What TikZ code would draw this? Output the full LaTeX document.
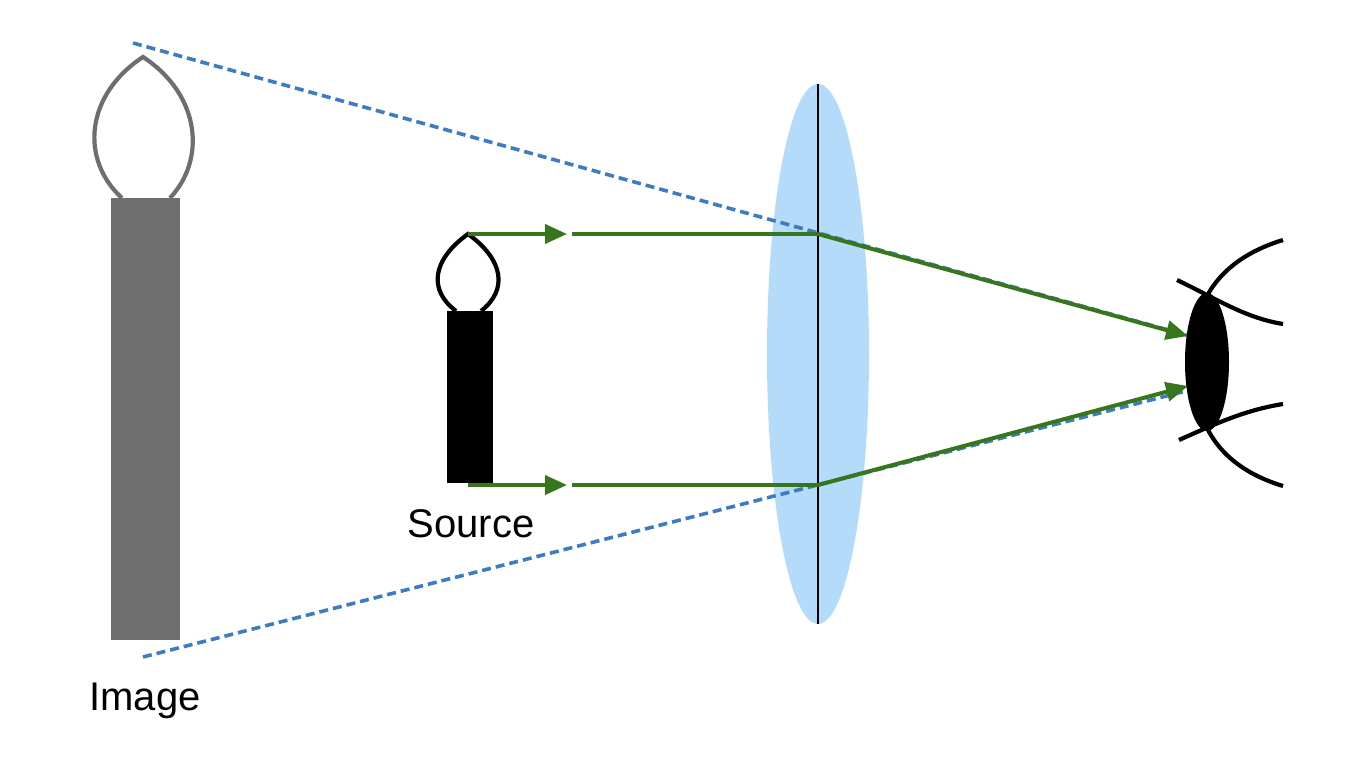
\documentclass[tikz,border=0pt]{standalone}
\usepackage{fontspec}
\setmainfont{Liberation Sans}
\usetikzlibrary{arrows.meta}
\definecolor{ray}{HTML}{38761D}
\definecolor{dash}{HTML}{3D7CC0}
\definecolor{lensc}{HTML}{B4DBF9}
\definecolor{imgc}{HTML}{6E6E6E}
\tikzset{
  rayline/.style={draw=ray,line width=4pt},
  rayarrow/.style={rayline,-{Triangle[length=22pt,width=19pt]}},
  dashline/.style={draw=dash,line width=3.6pt,dash pattern=on 9pt off 5pt},
  label/.style={font=\fontsize{40}{48}\selectfont,inner sep=0pt},
  thick line/.style={line width=4.2pt}
}
\begin{document}
\begin{tikzpicture}[x=1pt,y=-1pt]
\useasboundingbox (0,0) rectangle (1369,760);
% lens
\fill[lensc] (818,354) ellipse [x radius=51, y radius=270];
\draw[line width=2pt] (818,84) -- (818,624);
% image candle
\fill[imgc] (111,198) rectangle (180,640);
\draw[imgc,thick line] (122,198) .. controls (80,160) and (85,95) .. (143,57) .. controls (201,95) and (206,160) .. (170,198);
% source candle
\fill[black] (447,311) rectangle (493,483);
\draw[thick line] (456,311) .. controls (428,290) and (432,260) .. (468,234) .. controls (504,260) and (508,290) .. (481,311);
% coordinates
\coordinate (st) at (468,234);
\coordinate (sb) at (468,485);
\coordinate (at) at (567,234);
\coordinate (ab) at (567,485);
\coordinate (bt) at (572,234);
\coordinate (bb) at (572,485);
\coordinate (lt) at (818,234);
\coordinate (lb) at (818,485);
\coordinate (et) at (1188,336);
\coordinate (eb) at (1188,386);
\coordinate (it) at (133,43);
\coordinate (ib) at (143,657);
\coordinate (dt) at (1190,336);
\coordinate (db) at (1190,390);
% dashed
\draw[dashline] (it) -- (dt);
\draw[dashline] (ib) -- (db);
% rays
\draw[rayarrow] (st) -- (at);
\draw[rayarrow] (sb) -- (ab);
\draw[rayline] (bt) -- (lt);
\draw[rayline] (bb) -- (lb);
\draw[rayarrow] (lt) -- (et);
\draw[rayarrow] (lb) -- (eb);
% eye
\fill[black] (1207,362) ellipse [x radius=22, y radius=69];
\draw[thick line] (1283,240) .. controls (1250,250) and (1222,268) .. (1207,296);
\draw[thick line] (1283,486) .. controls (1250,476) and (1222,458) .. (1207,428);
\draw[thick line] (1177,280) .. controls (1215,298) and (1245,318) .. (1283,324);
\draw[thick line] (1179,440) .. controls (1215,424) and (1245,410) .. (1283,404);
% labels
\node[label] (src) at (471,524) {Source};
\node[label] (img) at (145,701) {Image};
\end{tikzpicture}
\end{document}
